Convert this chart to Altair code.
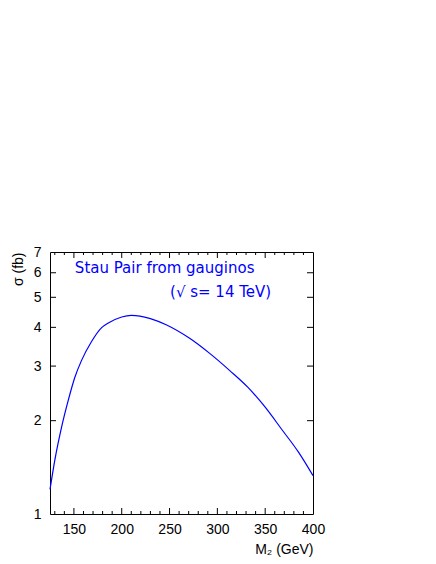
import altair as alt
import pandas as pd

# Curve data (M2 in GeV, sigma in fb)
m2 = [125, 130, 137, 144, 151, 158, 168, 179, 186, 200, 210, 219, 230, 247, 271.4, 292.3, 313, 332, 350, 367, 385, 400]
sigma = [1.20, 1.49, 1.90, 2.32, 2.76, 3.13, 3.58, 3.99, 4.13, 4.32, 4.37, 4.35, 4.27, 4.07, 3.68, 3.29, 2.90, 2.56, 2.21, 1.88, 1.58, 1.33]

x_major = [150, 200, 250, 300, 350]
x_minor = [130, 140, 160, 170, 180, 190, 210, 220, 230, 240, 260, 270, 280, 290,
           310, 320, 330, 340, 360, 370, 380, 390]
y_major = [2, 3, 4, 5, 6]
x_labels = [150, 200, 250, 300, 350, 400]
y_labels = [1, 2, 3, 4, 5, 6, 7]

title_text = ["Stau Pair from gauginos", "(\u221a s= 14 TeV)"]
title_x = [151, 250.5]
title_y = [6.2, 5.19]

W, H = 263, 262
FONT = "Liberation Sans"

xs = alt.Scale(domain=[125, 400], nice=False, zero=False)
ys = alt.Scale(type="log", domain=[1, 7], nice=False)

xaxis = alt.Axis(values=x_labels, ticks=False, domain=False, grid=False,
                 labelFont=FONT, labelFontSize=14, labelColor="black",
                 labelPadding=8, labelFlush=False,
                 title="M\u2082 (GeV)", titleFont=FONT, titleFontSize=14,
                 titleFontWeight="normal", titleAnchor="end", titlePadding=6,
                 titleColor="black")
yaxis = alt.Axis(values=y_labels, ticks=False, domain=False, grid=False,
                 labelFont=FONT, labelFontSize=14, labelColor="black",
                 labelPadding=9, labelFlush=False,
                 title="\u03c3 (fb)", titleFont=FONT, titleFontSize=14,
                 titleFontWeight="normal", titleAnchor="end", titlePadding=8,
                 titleColor="black")

df = pd.DataFrame({"M2": m2, "sigma": sigma})

line = alt.Chart(df).mark_line(color="#0000ff", strokeWidth=1.2, interpolate="monotone").encode(
    x=alt.X("M2:Q", scale=xs, axis=xaxis),
    y=alt.Y("sigma:Q", scale=ys, axis=yaxis),
)

def xticks(vals, length):
    d = pd.DataFrame({"t": vals})
    bottom = alt.Chart(d).mark_rule(color="black", strokeWidth=1).encode(
        x=alt.X("t:Q", scale=xs, axis=xaxis),
        y=alt.value(H), y2=alt.value(H - length))
    top = alt.Chart(d).mark_rule(color="black", strokeWidth=1).encode(
        x=alt.X("t:Q", scale=xs, axis=xaxis),
        y=alt.value(length), y2=alt.value(0.01))
    return [bottom, top]

def yticks(vals, length):
    d = pd.DataFrame({"t": vals})
    left = alt.Chart(d).mark_rule(color="black", strokeWidth=1).encode(
        y=alt.Y("t:Q", scale=ys, axis=yaxis),
        x=alt.value(length), x2=alt.value(0.01))
    right = alt.Chart(d).mark_rule(color="black", strokeWidth=1).encode(
        y=alt.Y("t:Q", scale=ys, axis=yaxis),
        x=alt.value(W), x2=alt.value(W - length))
    return [left, right]

tdf = pd.DataFrame({"label": title_text, "x": title_x, "y": title_y})
texts = alt.Chart(tdf).mark_text(color="#0000ff", font="DejaVu Sans", fontSize=15,
                                 align="left", baseline="middle").encode(
    x=alt.X("x:Q", scale=xs, axis=xaxis),
    y=alt.Y("y:Q", scale=ys, axis=yaxis),
    text="label:N")

layers = [line] + xticks(x_major, 6) + xticks(x_minor, 3) + yticks(y_major, 6) + [texts]

chart = alt.layer(*layers).properties(
    width=W, height=H,
    autosize=alt.AutoSizeParams(type="none"),
    padding={"left": 42, "top": 244, "right": 40, "bottom": 50},
).configure(background="white").configure_view(stroke="black", strokeWidth=1)

chart.save("out.html", embed_options={"renderer": "svg", "actions": False})
